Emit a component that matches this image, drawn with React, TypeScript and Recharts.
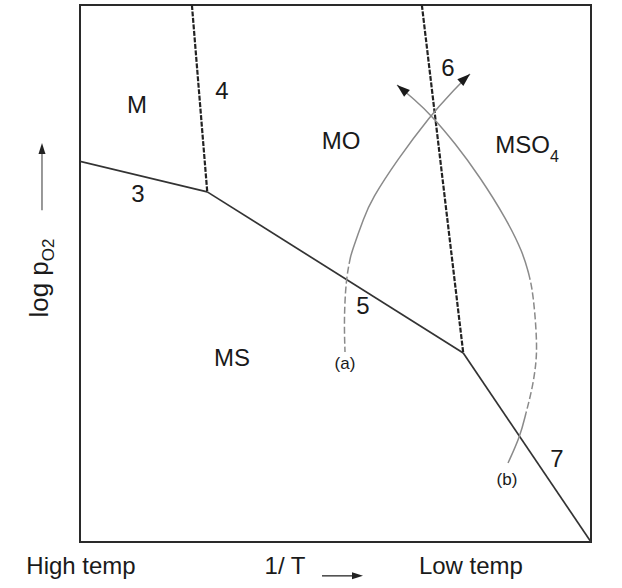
import React from 'react';
import { ComposedChart, Line, XAxis, YAxis, ReferenceArea, ReferenceDot, ReferenceLine } from 'recharts';

// Phase boundaries (x = 1/T, y = log pO2, arbitrary 0..100 units)
const boundary3 = [{ x: 0, y: 70.9 }, { x: 24.9, y: 65.2 }];
const boundary4 = [{ x: 21.9, y: 100 }, { x: 24.9, y: 65.2 }];
const boundary5 = [{ x: 24.9, y: 65.2 }, { x: 75.0, y: 35.2 }];
const boundary6 = [{ x: 66.9, y: 100 }, { x: 75.0, y: 35.2 }];
const boundary7 = [{ x: 75.0, y: 35.2 }, { x: 100, y: 0 }];

// Path (a): solid part (tip first) and dashed part
const pathASolid = [
  { x: 76.32, y: 87.15 }, { x: 72.41, y: 83.43 }, { x: 68.69, y: 79.52 },
  { x: 62.04, y: 71.14 }, { x: 57.0, y: 63.69 }, { x: 55.6, y: 60.52 },
  { x: 53.3, y: 54.38 }, { x: 52.94, y: 53.07 },
];
const pathADashed = [
  { x: 52.94, y: 53.07 }, { x: 52.05, y: 48.98 }, { x: 51.66, y: 41.34 }, { x: 51.86, y: 35.38 },
];

// Path (b): solid upper part (tip first), dashed middle, solid lower part
const pathBSolid1 = [
  { x: 62.04, y: 85.1 }, { x: 65.56, y: 82.31 }, { x: 68.69, y: 79.52 },
  { x: 73.39, y: 74.3 }, { x: 78.28, y: 67.97 }, { x: 83.56, y: 59.96 },
  { x: 86.69, y: 53.82 }, { x: 87.77, y: 50.09 },
];
const pathBDashed = [
  { x: 87.77, y: 50.09 }, { x: 88.45, y: 47.49 }, { x: 89.04, y: 42.64 },
  { x: 89.43, y: 36.69 }, { x: 89.24, y: 32.96 }, { x: 88.45, y: 28.31 }, { x: 87.28, y: 24.02 },
];
const pathBSolid2 = [{ x: 87.28, y: 24.02 }, { x: 86.11, y: 19.55 }, { x: 83.76, y: 14.71 }];

// Region / boundary labels
const regionLabels = [
  { text: 'M', x: 11.15, y: 81.38 },
  { text: 'MO', x: 51.08, y: 74.86 },
  { text: 'MS', x: 29.75, y: 34.45 },
];
const boundaryLabels = [
  { text: '3', x: 11.35, y: 64.99 },
  { text: '4', x: 27.79, y: 84.17 },
  { text: '5', x: 55.38, y: 43.95 },
  { text: '6', x: 72.02, y: 88.27 },
  { text: '7', x: 93.35, y: 15.64 },
];
const pathLabels = [
  { text: '(a)', x: 51.86, y: 33.33 },
  { text: '(b)', x: 83.56, y: 11.55 },
];
const sulfateLabel = { main: 'MSO', sub: '4', x: 87.48, y: 73.93 };

// Axis captions (outside the plot box)
const xCaptions = [
  { text: 'High temp', x: 0.2, y: -4.3 },
  { text: '1/ T', x: 40.12, y: -4.3 },
  { text: 'Low temp', x: 76.5, y: -4.3 },
];
const yCaption = { main: 'log p', sub: 'O2', x: -6.26, y: 49.16 };
const xArrow = [{ x: 47.36, y: -6.3 }, { x: 55.38, y: -6.3 }];
const yArrow = [{ x: -7.44, y: 61.8 }, { x: -7.44, y: 74.3 }];

const FONT = '"Liberation Sans", Arial, Helvetica, sans-serif';
const INK = '#1a1a1a';
const CURVE = '#8a8a8a';

const textShape = (text: string, size: number) => (p: any) => (
  <text x={p.cx} y={p.cy} textAnchor="middle" dominantBaseline="central"
    fontFamily={FONT} fontSize={size} fill={INK}>{text}</text>
);

const arrowHead = (angle: number, len = 13, half = 4.5, color = '#1a1a1a') => (p: any) => (
  <polygon points={`0,0 ${-len},${-half} ${-len},${half}`}
    transform={`translate(${p.cx},${p.cy}) rotate(${angle})`} fill={color} />
);

export default function App() {
  return (
    <div style={{ position: 'absolute', left: 0, top: 0, background: '#fff' }}>
      <ComposedChart width={622} height={588} margin={{ top: 5, right: 31, bottom: 46, left: 80 }}>
        <XAxis type="number" dataKey="x" domain={[0, 100]} hide allowDataOverflow />
        <YAxis type="number" dataKey="y" domain={[0, 100]} hide allowDataOverflow />
        <ReferenceArea x1={0} x2={100} y1={0} y2={100} fill="none" fillOpacity={0}
          stroke="#2a2a2a" strokeWidth={2} />

        <Line data={boundary3} dataKey="y" type="linear" stroke="#333" strokeWidth={1.7} dot={false} isAnimationActive={false} />
        <Line data={boundary5} dataKey="y" type="linear" stroke="#333" strokeWidth={1.7} dot={false} isAnimationActive={false} />
        <Line data={boundary7} dataKey="y" type="linear" stroke="#333" strokeWidth={1.7} dot={false} isAnimationActive={false} />
        <Line data={boundary4} dataKey="y" type="linear" stroke="#222" strokeWidth={2.2} strokeDasharray="5 1.5" dot={false} isAnimationActive={false} />
        <Line data={boundary6} dataKey="y" type="linear" stroke="#222" strokeWidth={2.2} strokeDasharray="5 1.5" dot={false} isAnimationActive={false} />

        <Line data={pathASolid} dataKey="y" type="basis" stroke={CURVE} strokeWidth={1.5} dot={false} isAnimationActive={false} />
        <Line data={pathADashed} dataKey="y" type="basis" stroke={CURVE} strokeWidth={1.5} strokeDasharray="7 3" dot={false} isAnimationActive={false} />
        <Line data={pathBSolid1} dataKey="y" type="basis" stroke={CURVE} strokeWidth={1.5} dot={false} isAnimationActive={false} />
        <Line data={pathBDashed} dataKey="y" type="basis" stroke={CURVE} strokeWidth={1.5} strokeDasharray="7 3" dot={false} isAnimationActive={false} />
        <Line data={pathBSolid2} dataKey="y" type="basis" stroke={CURVE} strokeWidth={1.5} dot={false} isAnimationActive={false} />

        <ReferenceDot x={pathASolid[0].x} y={pathASolid[0].y} r={0} ifOverflow="visible" shape={arrowHead(-42)} />
        <ReferenceDot x={pathBSolid1[0].x} y={pathBSolid1[0].y} r={0} ifOverflow="visible" shape={arrowHead(-140)} />

        {regionLabels.map((l) => (
          <ReferenceDot key={l.text} x={l.x} y={l.y} r={0} ifOverflow="visible" shape={textShape(l.text, 24)} />
        ))}
        {boundaryLabels.map((l) => (
          <ReferenceDot key={l.text} x={l.x} y={l.y} r={0} ifOverflow="visible" shape={textShape(l.text, 24)} />
        ))}
        {pathLabels.map((l) => (
          <ReferenceDot key={l.text} x={l.x} y={l.y} r={0} ifOverflow="visible" shape={textShape(l.text, 17)} />
        ))}
        <ReferenceDot x={sulfateLabel.x} y={sulfateLabel.y} r={0} ifOverflow="visible"
          shape={(p: any) => (
            <text x={p.cx} y={p.cy} textAnchor="middle" dominantBaseline="central" fontFamily={FONT} fontSize={24} fill={INK}>
              {sulfateLabel.main}<tspan dy={11} fontSize={16}>{sulfateLabel.sub}</tspan>
            </text>
          )} />

        {xCaptions.map((l) => (
          <ReferenceDot key={l.text} x={l.x} y={l.y} r={0} ifOverflow="visible" shape={textShape(l.text, 24)} />
        ))}
        <ReferenceLine segment={[xArrow[0], { x: xArrow[1].x - 2, y: xArrow[1].y }]} stroke="#444" strokeWidth={1.5} ifOverflow="visible" />
        <ReferenceDot x={xArrow[1].x} y={xArrow[1].y} r={0} ifOverflow="visible" shape={arrowHead(0, 11, 3.5, '#222')} />

        <ReferenceDot x={yCaption.x} y={yCaption.y} r={0} ifOverflow="visible"
          shape={(p: any) => (
            <text x={p.cx} y={p.cy} textAnchor="middle" transform={`rotate(-90, ${p.cx}, ${p.cy})`}
              fontFamily={FONT} fontSize={26} fill={INK}>
              {yCaption.main}<tspan dy={6} fontSize={17}>{yCaption.sub}</tspan>
            </text>
          )} />
        <ReferenceLine segment={[yArrow[0], { x: yArrow[1].x, y: yArrow[1].y - 2 }]} stroke="#777" strokeWidth={1.5} ifOverflow="visible" />
        <ReferenceDot x={yArrow[1].x} y={yArrow[1].y} r={0} ifOverflow="visible" shape={arrowHead(-90, 11, 3.5, '#222')} />
      </ComposedChart>
    </div>
  );
}
